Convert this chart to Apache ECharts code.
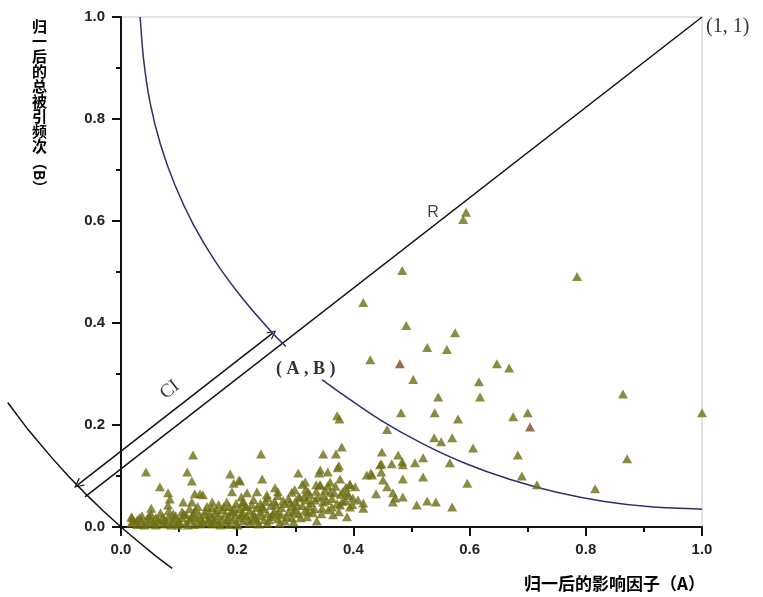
<!DOCTYPE html>
<html lang="zh">
<head>
    <meta charset="UTF-8">
    <title>归一后的影响因子与总被引频次</title>
    <script src="https://cdn.jsdelivr.net/npm/echarts@6/dist/echarts.min.js"></script>
</head>
<style>
html,body{margin:0;padding:0;background:#fff;}
#chartBox{width:763px;height:597px;}
</style>
<body>
    <div id="chartBox"></div>
</body>
<script>
// 散点(稀疏部分, 读图估计)
const scatterPts = [
    [0.594,0.617],[0.589,0.603],[0.484,0.503],[0.785,0.491],[0.417,0.440],[0.491,0.395],[0.575,0.381],
    [0.527,0.352],[0.561,0.348],[0.429,0.328],[0.647,0.320],[0.668,0.312],[0.503,0.289],[0.616,0.285],
    [0.618,0.255],[0.546,0.255],[0.864,0.261],[0.482,0.224],[0.540,0.224],[0.580,0.212],[0.675,0.216],
    [0.700,0.224],[1.000,0.224],[0.372,0.218],[0.376,0.212],[0.458,0.191],[0.539,0.175],[0.551,0.167],
    [0.570,0.175],[0.606,0.155],[0.683,0.141],[0.871,0.134],[0.520,0.136],[0.566,0.126],[0.690,0.100],
    [0.716,0.083],[0.596,0.086],[0.520,0.098],[0.816,0.075],[0.485,0.094],[0.506,0.126],[0.477,0.141],
    [0.485,0.122],[0.468,0.067],[0.485,0.059],[0.449,0.147],[0.448,0.124],[0.466,0.124],[0.484,0.128],
    [0.423,0.102],[0.432,0.102],[0.448,0.108],[0.451,0.092],[0.458,0.079],[0.439,0.065],[0.472,0.057],
    [0.468,0.049],[0.417,0.047],[0.417,0.037],[0.509,0.043],[0.527,0.051],[0.542,0.049],[0.570,0.039],
    [0.380,0.157],[0.370,0.143],[0.348,0.143],[0.241,0.143],[0.124,0.141],[0.375,0.120],[0.373,0.116],
    [0.356,0.108],[0.343,0.112],[0.341,0.106],[0.305,0.106],[0.430,0.106],[0.446,0.122],[0.043,0.108],
    [0.114,0.108],[0.188,0.104],[0.122,0.090],[0.194,0.086],[0.203,0.092],[0.205,0.090],[0.243,0.094],
    [0.067,0.079],[0.081,0.067],[0.084,0.055],[0.081,0.043],[0.052,0.037],[0.127,0.065],[0.136,0.065],
    [0.141,0.063],[0.191,0.069],[0.107,0.049],[0.122,0.049],[0.157,0.049],[0.182,0.049],[0.207,0.059],
    [0.210,0.047],[0.019,0.018],
    [0.317,0.088],[0.312,0.084],[0.299,0.073],[0.336,0.083],[0.343,0.083],[0.360,0.088],[0.356,0.081],
    [0.377,0.094],[0.394,0.083],[0.403,0.079],[0.382,0.069],[0.389,0.067],[0.367,0.067],[0.322,0.069],
    [0.325,0.063],[0.308,0.057],[0.320,0.053],[0.334,0.053],[0.348,0.049],[0.399,0.057],[0.408,0.053],
    [0.394,0.039],[0.363,0.039],[0.346,0.037],[0.317,0.033],[0.296,0.029],[0.377,0.043],[0.365,0.024],
    [0.337,0.012],[0.320,0.020],[0.389,0.020],[0.294,0.018],[0.265,0.077],[0.270,0.069],[0.234,0.069],
    [0.217,0.067],[0.251,0.063]
];

// 散点(底部密集带)
const bandPts = [
    [0.018,0.008],[0.018,0.020],[0.028,0.005],[0.028,0.014],[0.036,0.010],[0.036,0.022],[0.045,0.006],
    [0.045,0.016],[0.052,0.012],[0.052,0.025],[0.060,0.004],[0.060,0.018],[0.068,0.009],[0.068,0.028],
    [0.075,0.014],[0.075,0.006],[0.082,0.020],[0.082,0.032],[0.090,0.008],[0.090,0.016],[0.090,0.026],
    [0.098,0.012],[0.098,0.004],[0.105,0.018],[0.105,0.030],[0.112,0.007],[0.112,0.024],[0.118,0.014],
    [0.118,0.036],[0.125,0.005],[0.125,0.020],[0.125,0.028],[0.132,0.011],[0.132,0.040],[0.138,0.017],
    [0.138,0.006],[0.145,0.024],[0.145,0.032],[0.150,0.010],[0.150,0.015],[0.156,0.020],[0.156,0.038],
    [0.156,0.006],[0.162,0.013],[0.162,0.028],[0.168,0.022],[0.168,0.008],[0.168,0.044],[0.174,0.016],
    [0.174,0.034],[0.180,0.010],[0.180,0.026],[0.186,0.020],[0.186,0.040],[0.186,0.005],[0.192,0.014],
    [0.192,0.030],[0.198,0.024],[0.198,0.009],[0.198,0.046],[0.204,0.018],[0.204,0.036],[0.210,0.012],
    [0.210,0.028],[0.210,0.050],[0.216,0.022],[0.216,0.040],[0.222,0.008],[0.222,0.032],[0.228,0.016],
    [0.228,0.026],[0.228,0.054],[0.234,0.038],[0.234,0.012],[0.240,0.022],[0.240,0.046],[0.240,0.030],
    [0.246,0.014],[0.246,0.036],[0.252,0.026],[0.252,0.058],[0.252,0.008],[0.258,0.020],[0.258,0.042],
    [0.264,0.032],[0.264,0.050],[0.270,0.016],[0.270,0.028],[0.270,0.062],[0.276,0.038],[0.276,0.024],
    [0.282,0.046],[0.282,0.012],[0.288,0.030],[0.288,0.056],[0.294,0.040],[0.294,0.068],[0.300,0.034],
    [0.300,0.050],[0.306,0.026],[0.306,0.060],[0.312,0.042],[0.318,0.074],[0.324,0.040],[0.330,0.028],
    [0.336,0.070],[0.342,0.082],[0.348,0.062],[0.354,0.052],[0.360,0.068],[0.372,0.046],[0.378,0.064],
    [0.386,0.052],[0.394,0.084],
    [0.022,0.012],[0.032,0.018],[0.040,0.004],[0.048,0.022],[0.056,0.008],[0.064,0.014],[0.072,0.020],
    [0.079,0.010],[0.086,0.004],[0.094,0.022],[0.101,0.010],[0.108,0.026],[0.115,0.004],[0.121,0.018],
    [0.128,0.034],[0.135,0.024],[0.141,0.010],[0.148,0.040],[0.153,0.026],[0.159,0.012],[0.165,0.034],
    [0.171,0.004],[0.177,0.040],[0.183,0.014],[0.189,0.030],[0.195,0.036],[0.201,0.004],[0.207,0.024],
    [0.213,0.040],[0.219,0.014],[0.225,0.044],[0.231,0.020],[0.237,0.006],[0.243,0.040],[0.249,0.050],
    [0.255,0.014],[0.261,0.024],[0.267,0.044],[0.273,0.008],[0.279,0.052],[0.285,0.020],[0.291,0.048],
    [0.297,0.010],[0.303,0.042],[0.309,0.018],[0.315,0.060],[0.321,0.030],[0.327,0.048],[0.333,0.036],
    [0.339,0.058],[0.345,0.026],[0.351,0.072],[0.357,0.034],[0.363,0.056],[0.369,0.080],[0.375,0.030],
    [0.381,0.050],[0.387,0.078],[0.392,0.062],[0.398,0.044]
];

// 偏红褐色的两个点
const brownPts = [[0.480,0.320],[0.704,0.196]];

// 以(1,1)为圆心的内弧(在(A,B)处断开)
const arcUpper = [[0.033,1.0],[0.039,0.916],[0.050,0.832],[0.068,0.75],[0.093,0.670],[0.125,0.592],
    [0.164,0.518],[0.210,0.447],[0.261,0.380],[0.284,0.354]];
const arcLower = [[0.346,0.289],[0.380,0.261],[0.446,0.210],[0.518,0.164],[0.592,0.125],[0.670,0.093],
    [0.750,0.068],[0.832,0.050],[0.916,0.039],[1.0,0.035]];
// 过原点的外弧
const arcOuter = [[-0.195,0.244],[-0.160,0.191],[-0.120,0.137],[-0.090,0.099],[-0.060,0.064],[-0.030,0.031],
    [0,0],[0.030,-0.029],[0.060,-0.057],[0.088,-0.081]];
// 指向(1,1)的直线 与 CI 双箭头线
const diagLine = [[-0.062,0.059],[1,1]];
const ciArrow = [[-0.074,0.083],[0.261,0.380]];

// 图中标注
const annoNames = ['(1, 1)', 'R', '( A , B )', 'CI'];
const annoPos = [[1,1],[0.537,0.617],[0.318,0.309],[0.084,0.269]];

const xName = '归一后的影响因子（A）';
const yNameChars = ['归','一','后','的','总','被','引','频','次'];
const yNameTail = '（B）';

const POINT_COLOR = '#6e6e14';
const CURVE_COLOR = '#2e2e6c';
const ARROW_PATH = 'path://M5,0 L10,10 L8.6,10 L5,2.6 L1.4,10 L0,10 Z';

function axisCommon(margin) {
    return {
        type: 'value',
        min: 0,
        max: 1,
        interval: 0.2,
        splitLine: {show: false},
        axisLine: {show: true, lineStyle: {color: '#111', width: 2}},
        axisTick: {show: true, length: 9, lineStyle: {color: '#111', width: 2}},
        minorTick: {show: true, splitNumber: 2, length: 5, lineStyle: {color: '#111', width: 2}},
        axisLabel: {
            margin: margin,
            color: '#222',
            fontSize: 15,
            fontWeight: 'bold',
            fontFamily: 'Liberation Sans',
            formatter: function (v) { return v.toFixed(1); }
        }
    };
}

function annoLabel(i) {
    let styles = [
        {position: 'right', distance: 4, offset: [0, 10], fontFamily: 'Liberation Serif', fontSize: 20, color: '#000'},
        {position: 'inside', fontFamily: 'Liberation Sans', fontSize: 16, color: '#111'},
        {position: 'inside', fontFamily: 'Liberation Serif', fontSize: 18, fontWeight: 'bold', color: '#000'},
        {position: 'inside', fontFamily: 'Liberation Serif', fontSize: 19, color: '#000', rotate: 38}
    ];
    return Object.assign({show: true, formatter: '{b}'}, styles[i]);
}

function polyline(coords, color, syms) {
    return {
        type: 'lines', coordinateSystem: 'cartesian2d', polyline: coords.length > 2, clip: false,
        symbol: syms || ['none', 'none'], symbolSize: [10, 9],
        lineStyle: {color: color, width: 1.5, opacity: 1},
        data: [{coords: coords}], z: 2
    };
}

let chartObj = echarts.init(document.getElementById('chartBox'));
let option = {
    backgroundColor: '#fff',
    animation: false,
    grid: {
        left: 121, right: 61, top: 17, bottom: 70,
        show: true, borderColor: '#c8c8c8', borderWidth: 1
    },
    xAxis: axisCommon(15),
    yAxis: axisCommon(16),
    graphic: [
        {
            type: 'text', left: 32, top: 19,
            style: {text: yNameChars.join('\n'), font: 'bold 15px "Noto Sans CJK SC"', lineHeight: 15, fill: '#000'}
        },
        {
            type: 'text', x: 40, y: 175, rotation: -Math.PI / 2,
            style: {text: yNameTail, font: 'bold 15px "Noto Sans CJK SC"', align: 'center', verticalAlign: 'middle', fill: '#000'}
        },
        {
            type: 'text', right: 58, top: 575,
            style: {text: xName, font: 'bold 17px "Noto Sans CJK SC"', fill: '#000'}
        }
    ],
    series: [
        {
            type: 'scatter', data: bandPts, symbol: 'triangle', symbolSize: [10, 9],
            itemStyle: {color: POINT_COLOR}, z: 3
        },
        {
            type: 'scatter', data: scatterPts, symbol: 'triangle', symbolSize: [10, 9],
            itemStyle: {color: POINT_COLOR}, z: 3, clip: false
        },
        {
            type: 'scatter', data: brownPts, symbol: 'triangle', symbolSize: [10, 9],
            itemStyle: {color: '#7a4a26'}, z: 3
        },
        {
            type: 'line', data: arcUpper, smooth: 0.3, showSymbol: false,
            lineStyle: {color: CURVE_COLOR, width: 1.5}, z: 2
        },
        {
            type: 'line', data: arcLower, smooth: 0.3, showSymbol: false,
            lineStyle: {color: CURVE_COLOR, width: 1.5}, z: 2
        },
        polyline(arcOuter, '#111'),
        polyline(diagLine, '#111'),
        polyline(ciArrow, '#111', [ARROW_PATH, ARROW_PATH]),
        {
            type: 'scatter', symbolSize: 0, clip: false, z: 5,
            data: annoNames.map((n, i) => ({name: n, value: annoPos[i], label: annoLabel(i)}))
        }
    ]
};
chartObj.setOption(option);
</script>
</html>
